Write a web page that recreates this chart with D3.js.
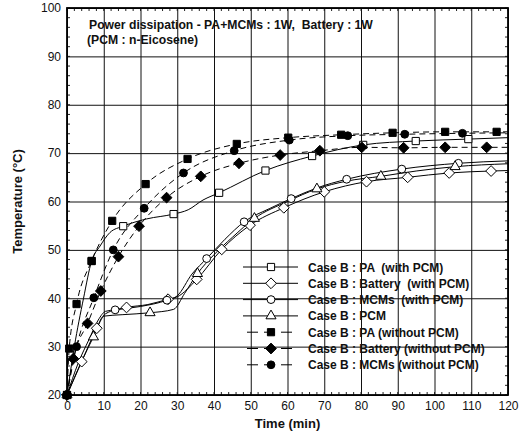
<!DOCTYPE html>
<html>
<head>
<meta charset="utf-8">
<script src="https://cdn.jsdelivr.net/npm/d3@7"></script>
<style>
  body { margin: 0; background: #fff; }
  text { font-family: "Liberation Sans", Arial, sans-serif; fill: #111; }
</style>
</head>
<body>
<svg id="chart"></svg>
<script>
// ---- data (time in min, temperature in °C) ----
let xTicks = [0, 10, 20, 30, 40, 50, 60, 70, 80, 90, 100, 110, 120];
let yTicks = [20, 30, 40, 50, 60, 70, 80, 90, 100];

let titleLines = ['Power dissipation - PA+MCMs : 1W,  Battery : 1W', '(PCM : n-Eicosene)'];

let paWithLine = [[0,20],[2,30],[4.5,40],[6.7,47.7],[9,50.8],[11.7,53.6],[15.3,54.9],[21.7,56.4],[29,57.4],[33,58.3],[37,60.3],[41.4,61.8],[54,66.4],[66.7,69.4],[80.6,71.7],[94.9,72.5],[109.2,72.9],[120,73.2]];
let paWithMarks = [[0,20],[6.7,47.7],[15.3,54.9],[29,57.4],[41.4,61.8],[54,66.4],[66.7,69.4],[80.6,71.7],[94.9,72.5],[109.2,72.9]];

let batWithLine = [[0,20],[4,26.9],[8.1,33.8],[10.5,36.8],[16.2,38.1],[22,38.7],[27.5,39.8],[30,40.3],[35.3,43.9],[42.1,50.1],[49.8,55.1],[59,58.7],[70,62],[81.5,64.1],[92.7,65],[104,65.9],[115.4,66.3],[120,66.4]];
let batWithMarks = [[0,20],[4,26.9],[8.1,33.8],[16.2,38.1],[27.5,39.8],[35.3,43.9],[42.1,50.1],[49.8,55.1],[59,58.7],[70,62],[81.5,64.1],[92.7,65],[104,65.9],[115.4,66.3]];

let mcmWithLine = [[0,20],[3,26.5],[6,31.5],[8.5,35.5],[10.5,37.3],[13.1,37.6],[20,38.3],[27.2,39.6],[30,40.5],[34,45],[38,48.2],[43,52.2],[48.2,55.8],[55,58.5],[61,60.6],[68,62.8],[76.1,64.6],[91.1,66.7],[106.5,67.9],[120,68.4]];
let mcmWithMarks = [[0,20],[13.1,37.6],[27.2,39.6],[38,48.2],[48.2,55.8],[61,60.6],[76.1,64.6],[91.1,66.7],[106.5,67.9]];

let pcmLine = [[0,20],[4,27],[7.2,32],[10,36.3],[15,36.6],[22.6,37],[29,37.7],[32,41],[35.5,45.1],[40,49],[45,52.6],[51,56.5],[60,60],[68,62.6],[76,64.2],[85.4,65.2],[95,66.3],[105.6,67.2],[120,67.8]];
let pcmMarks = [[0,20],[7.2,32],[22.6,37],[35.5,45.1],[51,56.5],[68,62.6],[85.4,65.2],[105.6,67.2]];

let paWithout = [[0,20],[0.6,29.6],[2.6,38.8],[6.7,47.7],[12.3,56],[21.4,63.6],[32.8,68.8],[46.2,71.9],[60.2,73.2],[74.6,73.8],[88.6,74.2],[102.9,74.4],[116.9,74.4],[120,74.4]];
let batWithout = [[0,20],[1.7,27.5],[5.6,34.8],[9.2,41.5],[14,48.6],[19.6,54.9],[27.1,60.8],[36.4,65.2],[46.8,67.9],[58,69.6],[68.8,70.5],[80.2,71.2],[91.6,71.1],[102.9,71.2],[114.2,71.2],[120,71.2]];
let mcmWithout = [[0,20],[2.6,30],[7.3,40.1],[12.6,50],[21,58.6],[31.7,65.9],[45.5,70.5],[60.5,72.7],[76.4,73.6],[91.9,73.9],[107.6,74.1],[120,74.2]];

let seriesNames = [
  'Case B : PA  (with PCM)',
  'Case B : Battery  (with PCM)',
  'Case B : MCMs  (with PCM)',
  'Case B : PCM',
  'Case B : PA (without PCM)',
  'Case B : Battery (without PCM)',
  'Case B : MCMs (without PCM)'
];

// ---- config ----
let width = 526, height = 437;
let margin = { top: 8, left: 67, right: 18, bottom: 42 };
let bodyWidth = width - margin.left - margin.right;
let bodyHeight = height - margin.top - margin.bottom;

let svg = d3.select('#chart').attr('width', width).attr('height', height);

let xScale = d3.scaleLinear().domain([0, 120]).range([0, bodyWidth]);
let yScale = d3.scaleLinear().domain([20, 100]).range([bodyHeight, 0]);

let body = svg.append('g').attr('transform', `translate(${margin.left},${margin.top})`);

// grid
body.append('g')
  .attr('transform', `translate(0,${bodyHeight})`)
  .call(d3.axisBottom(xScale).tickValues(xTicks).tickSize(-bodyHeight).tickFormat(d => d).tickPadding(6))
  .call(g => g.select('.domain').remove())
  .call(g => g.selectAll('line').attr('stroke', '#111').attr('stroke-width', 1))
  .call(g => g.selectAll('text').attr('font-size', 12).attr('fill', '#111'));

body.append('g')
  .call(d3.axisLeft(yScale).tickValues(yTicks).tickSize(-bodyWidth).tickPadding(6))
  .call(g => g.select('.domain').remove())
  .call(g => g.selectAll('line').attr('stroke', '#111').attr('stroke-width', 1))
  .call(g => g.selectAll('text').attr('font-size', 12).attr('fill', '#111'));

// minor ticks on the inside
let minorX = d3.range(0, 121, 2), minorY = d3.range(20, 101, 2);
body.selectAll('.mx').data(minorX).enter().append('line')
  .attr('x1', d => xScale(d)).attr('x2', d => xScale(d))
  .attr('y1', bodyHeight).attr('y2', bodyHeight - 3).attr('stroke', '#222');
body.selectAll('.mx2').data(minorX).enter().append('line')
  .attr('x1', d => xScale(d)).attr('x2', d => xScale(d))
  .attr('y1', 0).attr('y2', 3).attr('stroke', '#222');
body.selectAll('.my').data(minorY).enter().append('line')
  .attr('x1', 0).attr('x2', 3)
  .attr('y1', d => yScale(d)).attr('y2', d => yScale(d)).attr('stroke', '#222');
body.selectAll('.my2').data(minorY).enter().append('line')
  .attr('x1', bodyWidth).attr('x2', bodyWidth - 3)
  .attr('y1', d => yScale(d)).attr('y2', d => yScale(d)).attr('stroke', '#222');

// frame
body.append('rect').attr('width', bodyWidth).attr('height', bodyHeight)
  .attr('fill', 'none').attr('stroke', '#000').attr('stroke-width', 1.8);

// series
let series = [
  { line: paWithLine, marks: paWithMarks, sym: 'square', fill: '#fff', dash: null },
  { line: batWithLine, marks: batWithMarks, sym: 'diamond', fill: '#fff', dash: null },
  { line: mcmWithLine, marks: mcmWithMarks, sym: 'circle', fill: '#fff', dash: null },
  { line: pcmLine, marks: pcmMarks, sym: 'triangle', fill: '#fff', dash: null },
  { line: paWithout, marks: paWithout.slice(0, -1), sym: 'square', fill: '#000', dash: '6,4' },
  { line: batWithout, marks: batWithout.slice(0, -1), sym: 'diamond', fill: '#000', dash: '6,4' },
  { line: mcmWithout, marks: mcmWithout.slice(0, -1), sym: 'circle', fill: '#000', dash: '6,4' }
];

// a diamond as wide as it is tall
let squareDiamond = {
  draw(ctx, size) {
    let r = Math.sqrt(size / 2);
    ctx.moveTo(0, -r); ctx.lineTo(r, 0); ctx.lineTo(0, r); ctx.lineTo(-r, 0); ctx.closePath();
  }
};

let symbols = {
  square: d3.symbol().type(d3.symbolSquare).size(52),
  diamond: d3.symbol().type(squareDiamond).size(58),
  circle: d3.symbol().type(d3.symbolCircle).size(48),
  triangle: d3.symbol().type(d3.symbolTriangle).size(44)
};

let lineGen = d3.line().x(d => xScale(d[0])).y(d => yScale(d[1])).curve(d3.curveMonotoneX);

series.forEach(s => {
  body.append('path').attr('d', lineGen(s.line))
    .attr('fill', 'none').attr('stroke', '#000').attr('stroke-width', 1)
    .attr('stroke-dasharray', s.dash);
});
series.forEach(s => {
  body.selectAll(null).data(s.marks).enter().append('path')
    .attr('d', symbols[s.sym]())
    .attr('transform', d => `translate(${xScale(d[0])},${yScale(d[1])})`)
    .attr('fill', s.fill).attr('stroke', '#000').attr('stroke-width', 1);
});

// legend
let legend = svg.append('g').attr('transform', 'translate(243,267)');
seriesNames.forEach((name, i) => {
  let s = series[i];
  let row = legend.append('g').attr('transform', `translate(0,${i * 16.3})`);
  row.append('line').attr('x1', 0).attr('x2', 55).attr('y1', 0).attr('y2', 0)
    .attr('stroke', '#000').attr('stroke-width', 1).attr('stroke-dasharray', s.dash ? '11,6' : null)
    .attr('stroke-dashoffset', s.dash ? -4 : null);
  row.append('path').attr('d', symbols[s.sym]()).attr('transform', 'translate(28,0)')
    .attr('fill', s.fill).attr('stroke', '#000');
  row.append('text').attr('x', 65).attr('y', 4.5).attr('font-size', 12).attr('font-weight', 'bold')
    .style('white-space', 'pre').text(name);
});

// title
svg.selectAll('.title').data(titleLines).enter().append('text')
  .attr('x', (d, i) => i === 0 ? 89 : 87).attr('y', (d, i) => 29 + i * 15)
  .attr('font-size', 12.2).attr('font-weight', 'bold').style('white-space', 'pre')
  .text(d => d);

// axis titles
svg.append('text').attr('x', margin.left + bodyWidth / 2).attr('y', 428)
  .attr('text-anchor', 'middle').attr('font-size', 13).attr('font-weight', 'bold')
  .text('Time (min)');
svg.append('text').attr('transform', `translate(22,${margin.top + bodyHeight / 2}) rotate(-90)`)
  .attr('text-anchor', 'middle').attr('font-size', 13).attr('font-weight', 'bold')
  .text('Temperature (°C)');
</script>
</body>
</html>
